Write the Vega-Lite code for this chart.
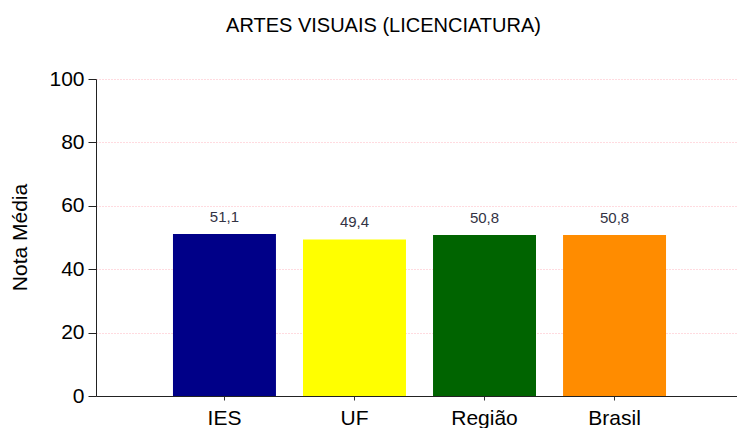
{
  "$schema": "https://vega.github.io/schema/vega-lite/v6.json",
  "autosize": "none",
  "width": 647,
  "height": 317,
  "padding": {"left": 96, "top": 79, "right": 0, "bottom": 32},
  "background": "white",
  "title": {
    "text": "ARTES VISUAIS (LICENCIATURA)",
    "font": "Liberation Sans",
    "fontSize": 20,
    "fontWeight": "normal",
    "color": "black",
    "anchor": "middle",
    "dx": -36,
    "offset": 32
  },
  "data": {
    "values": [
      {"grupo": "IES", "nota": 51.1, "rotulo": "51,1"},
      {"grupo": "UF", "nota": 49.4, "rotulo": "49,4"},
      {"grupo": "Região", "nota": 50.8, "rotulo": "50,8"},
      {"grupo": "Brasil", "nota": 50.8, "rotulo": "50,8"}
    ]
  },
  "encoding": {
    "x": {
      "field": "grupo",
      "type": "nominal",
      "sort": ["IES", "UF", "Região", "Brasil"],
      "scale": {"paddingInner": 0.208, "paddingOuter": 0.592},
      "axis": {
        "title": null,
        "labelAngle": 0,
        "labelFont": "Liberation Sans",
        "labelFontSize": 21,
        "labelColor": "black",
        "labelPadding": 7,
        "tickSize": 4,
        "tickColor": "#333333",
        "domainColor": "#222222",
        "grid": false
      }
    },
    "y": {
      "field": "nota",
      "type": "quantitative",
      "scale": {"domain": [0, 100]},
      "axis": {
        "title": "Nota Média",
        "titleFont": "Liberation Sans",
        "titleFontSize": 21,
        "titleFontWeight": "normal",
        "titleColor": "black",
        "titleX": -76,
        "titleY": 158,
        "titleBaseline": "middle",
        "values": [0, 20, 40, 60, 80, 100],
        "labelFont": "Liberation Sans",
        "labelFontSize": 21,
        "labelColor": "black",
        "labelPadding": 4,
        "tickSize": 8,
        "tickColor": "#222222",
        "domainColor": "#222222",
        "grid": true,
        "gridColor": "#FFB6C1",
        "gridDash": [1, 2],
        "gridWidth": 1
      }
    }
  },
  "layer": [
    {
      "mark": {"type": "bar"},
      "encoding": {
        "color": {
          "field": "grupo",
          "type": "nominal",
          "scale": {
            "domain": ["IES", "UF", "Região", "Brasil"],
            "range": ["#000088", "#FFFF00", "#006400", "#FF8C00"]
          },
          "legend": null
        }
      }
    },
    {
      "mark": {
        "type": "text",
        "baseline": "bottom",
        "dy": -9,
        "font": "Liberation Sans",
        "fontSize": 15,
        "color": "#333344"
      },
      "encoding": {"text": {"field": "rotulo"}}
    }
  ],
  "config": {"view": {"stroke": null}}
}
